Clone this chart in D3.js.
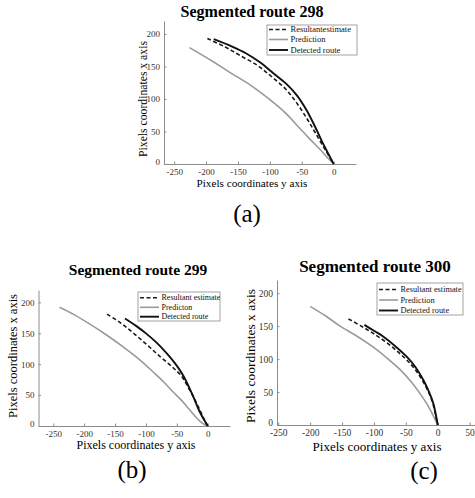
<!DOCTYPE html>
<html>
<head>
<meta charset="utf-8">
<script src="https://cdn.jsdelivr.net/npm/d3@7"></script>
<style>
  body { margin: 0; background: #fff; }
  svg, text { font-family: "Liberation Serif", "Times New Roman", serif; }
</style>
</head>
<body>
<svg id="fig"></svg>
<script>
// Svg size.
const width = 475;
const height = 498;

// Tick values.
const xTicksShort = [-250, -200, -150, -100, -50, 0];
const xTicksLong = [-250, -200, -150, -100, -50, 0, 50];
const yTicks = [0, 50, 100, 150, 200];

// Series labels for each panel (as printed in the legends).
const seriesKeys = ["resultant", "prediction", "detected"];
const legend298 = ["Resultantestimate", "Prediction", "Detected route"];
const legend299 = ["Resultant estimate", "Predicton", "Detected route"];
const legend300 = ["Resultant estimate", "Prediction", "Detected route"];

// Route 298, [y axis, x axis] in pixel coordinates.
const resultant298 = [[-198, 193], [-170, 180], [-147, 167], [-120, 152], [-98, 135], [-75, 115], [-58, 94], [-42, 70], [-30, 50], [-15, 25], [0, 0]];
const prediction298 = [[-226, 179], [-190, 158], [-163, 141], [-130, 121], [-100, 99], [-75, 78], [-55, 57], [-38, 39], [-22, 23], [-10, 10], [0, 0]];
const detected298 = [[-188, 192], [-160, 181], [-137, 170], [-115, 156], [-95, 140], [-75, 124], [-58, 106], [-42, 82], [-28, 55], [-17, 32], [-8, 15], [0, 0]];

// Route 299.
const resultant299 = [[-163, 181], [-140, 166], [-120, 150], [-98, 131], [-77, 112], [-58, 96], [-42, 80], [-32, 63], [-22, 45], [-12, 24], [-5, 9], [0, 0]];
const prediction299 = [[-240, 192], [-218, 181], [-196, 168], [-165, 148], [-137, 128], [-110, 107], [-88, 87], [-70, 70], [-56, 55], [-42, 41], [-30, 27], [-18, 13], [-8, 4], [0, 0]];
const detected299 = [[-134, 174], [-116, 162], [-99, 149], [-82, 134], [-66, 117], [-52, 100], [-40, 82], [-30, 62], [-22, 44], [-13, 23], [-6, 10], [0, 0]];

// Route 300.
const resultant300 = [[-140, 161], [-120, 150], [-101, 139], [-80, 125], [-59, 108], [-42, 92], [-28, 74], [-17, 55], [-9, 37], [-4, 18], [0, 0]];
const prediction300 = [[-200, 180], [-175, 165], [-153, 150], [-127, 135], [-101, 118], [-80, 102], [-59, 84], [-42, 66], [-28, 48], [-17, 32], [-9, 18], [0, 0]];
const detected300 = [[-115, 152], [-100, 143], [-85, 134], [-67, 120], [-49, 104], [-35, 88], [-23, 69], [-14, 51], [-7, 33], [-3, 16], [0, 0]];

// Line styles per series.
const styles = {
  resultant: { stroke: "#1a1a1a", width: 1.6, dash: "4,2.5" },
  prediction: { stroke: "#9a9a9a", width: 1.6, dash: null },
  detected: { stroke: "#111111", width: 1.9, dash: null }
};

const svg = d3.select("#fig")
  .attr("width", width)
  .attr("height", height)
  .attr("font-family", "'Liberation Serif', serif");

svg.append("rect")
  .attr("width", width)
  .attr("height", height)
  .attr("fill", "#fff");

/*
 * Returns a translate string for the transform attribute.
 */
function translate(x, y) {
  return "translate(" + String(x) + "," + String(y) + ")";
}

const panels = [
  {
    id: "a", title: "Segmented route 298", tag: "(a)",
    series: { resultant: resultant298, prediction: prediction298, detected: detected298 },
    legend: legend298,
    xDomain: [-266, 35], yDomain: [0, 220],
    left: 164, right: 356, top: 21, bottom: 164,
    xTicks: xTicksShort,
    titleX: 252, titleY: 17, titleSize: 16,
    xLabelX: 252, xLabelY: 187, yLabelX: 147, yLabelY: 99, labelSize: 11.2,
    tagX: 247, tagY: 222,
    leg: { x: 267, y: 25, w: 90, h: 30, rows: [29.5, 39.5, 50], size: 8.5 },
    tickSize: 9
  },
  {
    id: "b", title: "Segmented route 299", tag: "(b)",
    series: { resultant: resultant299, prediction: prediction299, detected: detected299 },
    legend: legend299,
    xDomain: [-274, 36], yDomain: [0, 220],
    left: 38.5, right: 230, top: 290, bottom: 426,
    xTicks: xTicksShort,
    titleX: 138, titleY: 275, titleSize: 15.5,
    xLabelX: 136, xLabelY: 449, yLabelX: 17, yLabelY: 356, labelSize: 12,
    tagX: 132, tagY: 478,
    leg: { x: 138, y: 292, w: 82, h: 29, rows: [297.7, 307.3, 316.7], size: 8 },
    tickSize: 9
  },
  {
    id: "c", title: "Segmented route 300", tag: "(c)",
    series: { resultant: resultant300, prediction: prediction300, detected: detected300 },
    legend: legend300,
    xDomain: [-252, 60], yDomain: [0, 220],
    left: 277, right: 476, top: 280, bottom: 425,
    xTicks: xTicksLong,
    titleX: 375, titleY: 272, titleSize: 17,
    xLabelX: 377, xLabelY: 450.5, yLabelX: 255, yLabelY: 356, labelSize: 13,
    tagX: 424, tagY: 479,
    leg: { x: 377, y: 283, w: 86, h: 32, rows: [289.5, 300, 310.5], size: 8.3 },
    tickSize: 9.5
  }
];

panels.forEach(drawPanel);

/*
 * Draws one subplot: axes, curves, legend and captions.
 */
function drawPanel(p) {
  const g = svg.append("g").attr("id", "panel-" + p.id);

  const xScale = d3.scaleLinear().domain(p.xDomain).range([p.left, p.right]);
  const yScale = d3.scaleLinear().domain(p.yDomain).range([p.bottom, p.top]);

  // Axes, ticks pointing inward like matlab, plain hyphen minus.
  const xAxis = d3.axisBottom(xScale)
    .tickValues(p.xTicks)
    .tickFormat(d => String(d))
    .tickSizeInner(-2.5)
    .tickSizeOuter(0)
    .tickPadding(4.5);
  const yAxis = d3.axisLeft(yScale)
    .tickValues(yTicks)
    .tickFormat(d => String(d))
    .tickSizeInner(-2.5)
    .tickSizeOuter(0)
    .tickPadding(4);

  const xg = g.append("g").attr("transform", translate(0, p.bottom)).call(xAxis);
  const yg = g.append("g").attr("transform", translate(p.left, 0)).call(yAxis);

  [xg, yg].forEach(a => {
    a.attr("font-family", "'Liberation Serif', serif");
    a.select(".domain").attr("stroke", "#8c8c8c").attr("stroke-width", 1);
    a.selectAll(".tick line").attr("stroke", "#8c8c8c");
    a.selectAll(".tick text")
      .attr("fill", "#333")
      .style("font-size", p.tickSize + "px");
  });

  // Lift the bottom y label a touch so it clears the first x label.
  yg.selectAll(".tick text").filter(d => d === 0).attr("dy", "0.05em");

  // Curves.
  const line = d3.line()
    .x(d => xScale(d[0]))
    .y(d => yScale(d[1]))
    .curve(d3.curveCatmullRom);

  const order = ["prediction", "resultant", "detected"];
  order.forEach(key => {
    const s = styles[key];
    g.append("path")
      .datum(p.series[key])
      .attr("d", line)
      .attr("fill", "none")
      .attr("stroke", s.stroke)
      .attr("stroke-width", s.width)
      .attr("stroke-dasharray", s.dash);
  });

  // Legend box.
  const leg = g.append("g").attr("class", "legend");
  const clipId = "clip-" + p.id;
  svg.append("clipPath").attr("id", clipId)
    .append("rect")
    .attr("x", p.leg.x).attr("y", p.leg.y)
    .attr("width", p.leg.w).attr("height", p.leg.h);

  leg.append("rect")
    .attr("x", p.leg.x).attr("y", p.leg.y)
    .attr("width", p.leg.w).attr("height", p.leg.h)
    .attr("fill", "#fff")
    .attr("stroke", "#8c8c8c")
    .attr("stroke-width", 0.8);

  const inner = leg.append("g").attr("clip-path", "url(#" + clipId + ")");
  seriesKeys.forEach((key, i) => {
    const s = styles[key];
    const y = p.leg.rows[i];
    inner.append("line")
      .attr("x1", p.leg.x + 2).attr("x2", p.leg.x + 21)
      .attr("y1", y).attr("y2", y)
      .attr("stroke", s.stroke)
      .attr("stroke-width", s.width)
      .attr("stroke-dasharray", s.dash);
    inner.append("text")
      .attr("x", p.leg.x + 23.5)
      .attr("y", y)
      .attr("dy", "0.33em")
      .style("font-size", p.leg.size + "px")
      .attr("fill", "#111")
      .text(p.legend[i]);
  });

  // Title.
  g.append("text")
    .attr("x", p.titleX).attr("y", p.titleY)
    .attr("text-anchor", "middle")
    .style("font-size", p.titleSize + "px")
    .style("font-weight", "bold")
    .text(p.title);

  // Axis titles.
  g.append("text")
    .attr("x", p.xLabelX).attr("y", p.xLabelY)
    .attr("text-anchor", "middle")
    .style("font-size", p.labelSize + "px")
    .text("Pixels coordinates y axis");

  g.append("g")
    .attr("transform", translate(p.yLabelX, p.yLabelY))
    .append("text")
    .attr("transform", "rotate(-90)")
    .attr("text-anchor", "middle")
    .style("font-size", (p.labelSize + 0.5) + "px")
    .text("Pixels coordinates x axis");

  // Caption letter under the subplot.
  g.append("text")
    .attr("x", p.tagX).attr("y", p.tagY)
    .attr("text-anchor", "middle")
    .style("font-size", "25px")
    .text(p.tag);
}
</script>
</body>
</html>
